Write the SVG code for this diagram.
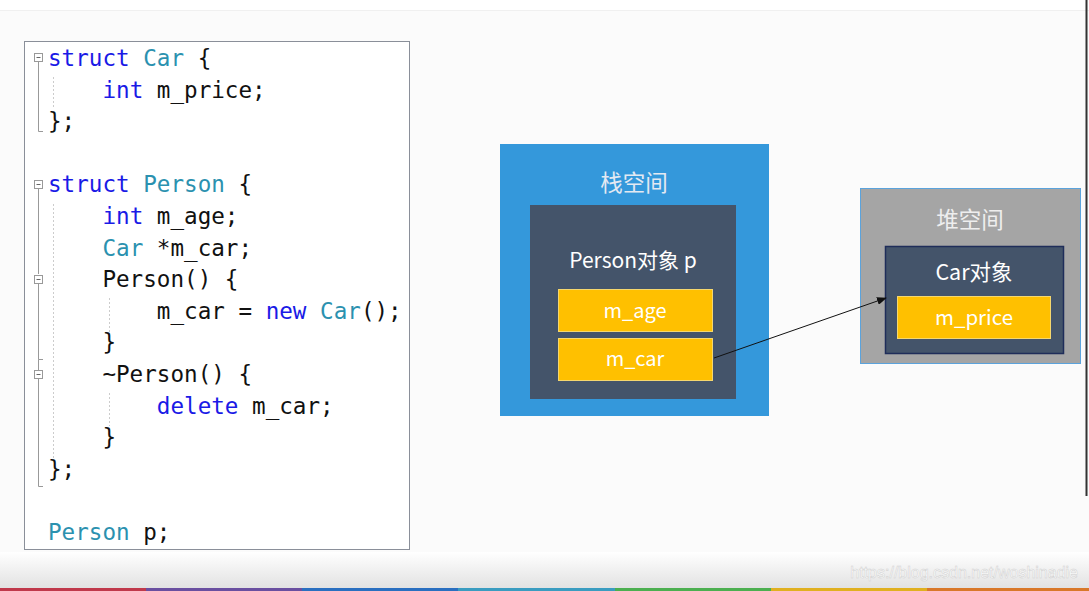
<svg xmlns="http://www.w3.org/2000/svg" width="1089" height="591" viewBox="0 0 1089 591">
<defs>
<linearGradient id="bottomGrad" x1="0" y1="0" x2="0" y2="1">
<stop offset="0" stop-color="#ffffff"/>
<stop offset="1" stop-color="#e2e2e2"/>
</linearGradient>
<marker id="arrow" markerWidth="10" markerHeight="8" refX="9" refY="4" orient="auto" markerUnits="userSpaceOnUse">
<path d="M0,0 L10,4 L0,8 z" fill="#111"/>
</marker>
<style>
.code{font-family:"DejaVu Sans Mono","Liberation Mono",monospace;font-size:22.6px;fill:#111;white-space:pre}
.kw{fill:#1a1ae6}
.ty{fill:#2b91af}
.fold{fill:#fff;stroke:#999;stroke-width:1}
.guide{stroke:#999;stroke-width:1;fill:none}
.dash{stroke:#ccc;stroke-width:1;stroke-dasharray:2,2;fill:none}
.lbl{font-family:"Noto Sans CJK SC","Noto Sans",sans-serif;text-anchor:middle;fill:#ffffff}
.field{fill:#ffc000;stroke:#f5d76e;stroke-width:1}
.inner{fill:#44546a}
</style>
</defs>
<rect x="0" y="0" width="1089" height="591" fill="#fbfbfb"/>
<rect x="0" y="0" width="1089" height="10" fill="#ffffff"/>
<line x1="0" y1="10.5" x2="1089" y2="10.5" stroke="#f0f0f0"/>
<rect x="0" y="552" width="1089" height="36" fill="url(#bottomGrad)"/>
<g id="stripe">
<rect x="0" y="588" width="146" height="3" fill="#c0394b"/>
<rect x="146" y="588" width="156" height="3" fill="#6a4fa0"/>
<rect x="302" y="588" width="156" height="3" fill="#2a6fc0"/>
<rect x="458" y="588" width="157" height="3" fill="#3a9cc0"/>
<rect x="615" y="588" width="156" height="3" fill="#4caf50"/>
<rect x="771" y="588" width="156" height="3" fill="#e0b020"/>
<rect x="927" y="588" width="162" height="3" fill="#d9782a"/>
</g>
<line x1="1086.5" y1="0" x2="1086.5" y2="496" stroke="#333" stroke-width="2"/>

<g id="code">
<rect x="24.5" y="41.5" width="385" height="508" fill="#ffffff" stroke="#8a8f99" stroke-width="1"/>
<rect class="fold" x="34.5" y="53.5" width="8" height="8"/>
<line x1="36.5" y1="57.5" x2="40.5" y2="57.5" stroke="#666"/>
<path class="guide" d="M38.5,62 V131.5 H43"/>
<line class="dash" x1="53.5" y1="77" x2="53.5" y2="108"/>
<rect class="fold" x="34.5" y="180.5" width="8" height="8"/>
<line x1="36.5" y1="184.5" x2="40.5" y2="184.5" stroke="#666"/>
<path class="guide" d="M38.5,189 V274"/>
<rect class="fold" x="34.5" y="275.5" width="8" height="8"/>
<line x1="36.5" y1="279.5" x2="40.5" y2="279.5" stroke="#666"/>
<path class="guide" d="M38.5,284 V359.5 H43 M38.5,359.5 V370"/>
<rect class="fold" x="34.5" y="370.5" width="8" height="8"/>
<line x1="36.5" y1="374.5" x2="40.5" y2="374.5" stroke="#666"/>
<path class="guide" d="M38.5,379 V486.5 H43"/>
<line class="dash" x1="53.5" y1="204" x2="53.5" y2="458"/>
<line class="dash" x1="109.5" y1="298" x2="109.5" y2="332"/>
<line class="dash" x1="109.5" y1="393" x2="109.5" y2="426"/>
<text class="code" x="48" y="66"><tspan class="kw">struct</tspan> <tspan class="ty">Car</tspan> {</text>
<text class="code" x="48" y="97.6">    <tspan class="kw">int</tspan> m_price;</text>
<text class="code" x="48" y="129.2">};</text>
<text class="code" x="48" y="192.4"><tspan class="kw">struct</tspan> <tspan class="ty">Person</tspan> {</text>
<text class="code" x="48" y="224">    <tspan class="kw">int</tspan> m_age;</text>
<text class="code" x="48" y="255.6">    <tspan class="ty">Car</tspan> *m_car;</text>
<text class="code" x="48" y="287.2">    Person() {</text>
<text class="code" x="48" y="318.8">        m_car = <tspan class="kw">new</tspan> <tspan class="ty">Car</tspan>();</text>
<text class="code" x="48" y="350.4">    }</text>
<text class="code" x="48" y="382">    ~Person() {</text>
<text class="code" x="48" y="413.6">        <tspan class="kw">delete</tspan> m_car;</text>
<text class="code" x="48" y="445.2">    }</text>
<text class="code" x="48" y="476.8">};</text>
<text class="code" x="48" y="540"><tspan class="ty">Person</tspan> p;</text>
</g>

<g id="stack">
<rect x="500" y="144" width="269" height="272" fill="#3498db"/>
<text class="lbl" x="634" y="191" font-size="22.5" style="fill:#e3e9f2">栈空间</text>
</g>
<g id="person">
<rect class="inner" x="530" y="205" width="206" height="194"/>
<text class="lbl" x="633" y="268" font-size="21">Person对象 p</text>
</g>
<g id="m_age">
<rect class="field" x="558.5" y="289.5" width="154" height="42"/>
<text class="lbl" x="635" y="318" font-size="20">m_age</text>
</g>
<g id="m_car">
<rect class="field" x="558.5" y="338.5" width="154" height="42"/>
<text class="lbl" x="635" y="366" font-size="20">m_car</text>
</g>

<g id="heap">
<rect x="860.5" y="188.5" width="220" height="175" fill="#a5a5a5" stroke="#5ba3dc" stroke-width="1"/>
<text class="lbl" x="970" y="228" font-size="22.5" style="fill:#eeeeee">堆空间</text>
</g>
<g id="car">
<rect class="inner" x="885.5" y="246.5" width="178" height="107" stroke="#1f2d5a" stroke-width="1.5"/>
<text class="lbl" x="974" y="280" font-size="21.5">Car对象</text>
</g>
<g id="m_price">
<rect class="field" x="897.5" y="296.5" width="153" height="42"/>
<text class="lbl" x="974" y="325" font-size="20.5">m_price</text>
</g>

<g id="connectors">
<line x1="714" y1="358" x2="886" y2="298" stroke="#111" stroke-width="1" marker-end="url(#arrow)"/>
</g>

<text x="1078" y="578" text-anchor="end" font-family="Liberation Sans, sans-serif" font-size="16" fill="#ffffff" stroke="#cfcfcf" stroke-width="0.5">https://blog.csdn.net/woshinadie</text>
</svg>
